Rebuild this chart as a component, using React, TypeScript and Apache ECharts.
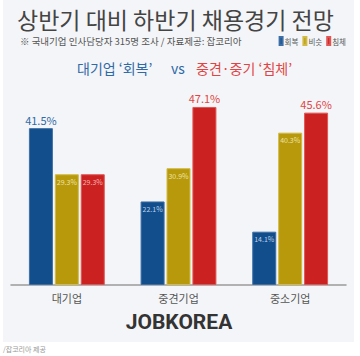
import React, { useEffect, useRef } from "react";
import * as echarts from "echarts";

const categories = ["대기업", "중견기업", "중소기업"];
const seriesNames = ["회복", "비슷", "침체"];
const recovery = [41.5, 22.1, 14.1];
const similar = [29.3, 30.9, 40.3];
const slump = [29.3, 47.1, 45.6];
const bigLabelIdx: Record<string, number[]> = { 회복: [0], 비슷: [], 침체: [1, 2] };

const FONT = '"Noto Sans CJK KR", "Noto Sans", sans-serif';
const barColors = ["#124e8c", "#b7990b", "#cc2121"];
const borderColors = ["#3d6fa6", "#d2bb45", "#e05555"];
const smallLabelColors = ["#bcd0ea", "#efe3a6", "#f5b3b0"];
const bigLabelColors = ["#2f6aa6", "#b7990b", "#e04545"];

export default function App() {
  const ref = useRef<HTMLDivElement>(null);
  useEffect(() => {
    if (!ref.current) return;
    const chart = echarts.init(ref.current, null, { renderer: "svg" });
    const all = [recovery, similar, slump];
    const series = seriesNames.map((name, si) => ({
      name,
      type: "bar",
      barWidth: 24,
      barGap: "8%",
      itemStyle: { color: barColors[si], borderColor: borderColors[si], borderWidth: 1 },
      data: all[si].map((v, i) => {
        const big = bigLabelIdx[name].includes(i);
        return {
          value: v,
          label: big
            ? {
                show: true,
                position: "top",
                distance: 3,
                fontSize: 11,
                fontFamily: FONT,
                color: bigLabelColors[si],
                formatter: (p: any) => p.value.toFixed(1) + "%",
              }
            : {
                show: true,
                position: "insideTop",
                distance: 4,
                fontSize: 7,
                fontFamily: FONT,
                color: smallLabelColors[si],
                formatter: (p: any) => p.value.toFixed(1) + "%",
              },
        };
      }),
    }));
    chart.setOption({
      animation: false,
      backgroundColor: "#ffffff",
      title: {
        text: "상반기 대비 하반기 채용경기 전망",
        left: 17,
        top: 3,
        padding: 0,
        textStyle: { fontFamily: FONT, fontSize: 23, lineHeight: 31, fontWeight: "normal", color: "#444444" },
      },
      legend: {
        data: seriesNames,
        right: 14,
        top: 36,
        padding: 0,
        itemWidth: 3,
        itemHeight: 8,
        itemGap: 4,
        icon: "rect",
        textStyle: { fontFamily: FONT, fontSize: 7.5, lineHeight: 8, color: "#555555", padding: [0, 0, 0, -3] },
      },
      graphic: [
        {
          type: "rect",
          z: -10,
          silent: true,
          shape: { x: 3, y: 0, width: 351, height: 342 },
          style: { fill: "#f4f5f8" },
        },
        {
          type: "text",
          x: 20,
          y: 41,
          style: {
            text: "※ 국내기업 인사담당자 315명 조사 / 자료제공: 잡코리아",
            font: `normal 9.5px ${FONT}`,
            lineHeight: 10,
            fill: "#555555",
            verticalAlign: "middle",
          },
        },
        {
          type: "text",
          x: 77,
          y: 68,
          style: { text: "대기업 ‘회복’", font: `normal 14px ${FONT}`, fill: "#2f6aa6", verticalAlign: "middle" },
        },
        {
          type: "text",
          x: 171,
          y: 68,
          style: { text: "vs", font: `normal 14px ${FONT}`, fill: "#2f6aa6", verticalAlign: "middle" },
        },
        {
          type: "text",
          x: 196,
          y: 68,
          style: { text: "중견·중기 ‘침체’", font: `normal 14px ${FONT}`, fill: "#e04545", verticalAlign: "middle" },
        },
        {
          type: "text",
          x: 179,
          y: 322,
          style: {
            text: "JOBKOREA",
            font: `bold 21px Roboto, "Liberation Sans", sans-serif`,
            fill: "#333333",
            align: "center",
            verticalAlign: "middle",
          },
        },
        {
          type: "text",
          x: 3,
          y: 349,
          style: { text: "/잡코리아 제공", font: `normal 7px ${FONT}`, fill: "#999999", verticalAlign: "middle" },
        },
      ],
      grid: { left: 11, right: 14, top: 96, bottom: 71, containLabel: false },
      xAxis: {
        type: "category",
        data: categories,
        axisLine: { show: true, lineStyle: { color: "#9a9a9a", width: 1.5 } },
        axisTick: { show: false },
        axisLabel: { fontFamily: FONT, fontSize: 11, color: "#555555", margin: 7 },
      },
      yAxis: {
        type: "value",
        min: 0,
        max: 50,
        show: false,
        splitLine: { show: false },
      },
      series,
    });
    return () => chart.dispose();
  }, []);
  return (
    <div
      ref={ref}
      style={{ position: "fixed", left: 0, top: 0, width: 360, height: 356, background: "#fff" }}
    />
  );
}
